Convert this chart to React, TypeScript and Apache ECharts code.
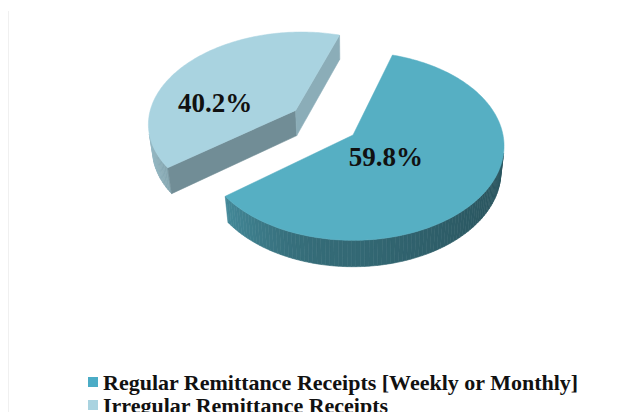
import React, { useEffect, useRef } from "react";
import * as echarts from "echarts";

// ---- data ----
const categories = [
  "Regular Remittance Receipts [Weekly or Monthly]",
  "Irregular Remittance Receipts",
];
const values = [59.8, 40.2];
const labelTexts = ["59.8%", "40.2%"];
const explodedSlices = [0, 1];

// ---- style ----
const topColors = ["#56AFC3", "#A9D3E0"];
const legendColors = ["#4BACC6", "#A9D3E0"];
const labelShiftDeg = [12.4, -25.7];
const labelRadius = [0.314, 0.57];
const legendTops = [366, 389];

// ---- 3D geometry ----
const CX = 353;
const CY = 135;
const RADIUS = 1;
const DIST = 6.7;
const FOCAL = 1005;
const TILT = (38.3 * Math.PI) / 180;
const THICK = 0.221;
const EXPLODE = 0.48;
const START_DEG = 17;
const cosA = Math.cos(TILT);
const sinA = Math.sin(TILT);
const CAM = [0, DIST * sinA, -DIST * cosA];

function project(X: number, Y: number, Z: number): number[] {
  const yc = Y * cosA + Z * sinA;
  const zc = DIST + Z * cosA - Y * sinA;
  return [CX + (FOCAL * X) / zc, CY - (FOCAL * yc) / zc];
}

function shade(hex: string, f: number): string {
  const n = parseInt(hex.slice(1), 16);
  const r = Math.round(((n >> 16) & 255) * f);
  const g = Math.round(((n >> 8) & 255) * f);
  const b = Math.round((n & 255) * f);
  return `rgb(${r},${g},${b})`;
}

function outerFactor(deg: number): number {
  const s = Math.sin((deg * Math.PI) / 180);
  return s < 0 ? 0.6 + 0.29 * s * s : 0.6 - 0.12 * s;
}

const rad = (d: number) => (d * Math.PI) / 180;

function makeRenderItem(idx: number) {
  return (params: any, api: any) => {
    const total = values.reduce((a, b) => a + b, 0);
    let acc = 0;
    for (let j = 0; j < idx; j++) acc += values[j];
    const v = api.value(0);
    const a0 = START_DEG + (acc / total) * 360;
    const a1 = a0 + (v / total) * 360;
    const mid = (a0 + a1) / 2;
    const ex = explodedSlices[idx] ? EXPLODE * Math.sin(rad(mid)) : 0;
    const ez = explodedSlices[idx] ? EXPLODE * Math.cos(rad(mid)) : 0;
    const top = topColors[idx];

    const rimTop = (d: number) =>
      project(ex + RADIUS * Math.sin(rad(d)), 0, ez + RADIUS * Math.cos(rad(d)));
    const rimBot = (d: number) =>
      project(ex + RADIUS * Math.sin(rad(d)), -THICK, ez + RADIUS * Math.cos(rad(d)));
    const apexTop = project(ex, 0, ez);
    const apexBot = project(ex, -THICK, ez);

    const children: any[] = [];

    // outer curved side
    const step = 1.5;
    for (let d = a0; d < a1 - 1e-6; d += step) {
      const d2 = Math.min(a1, d + step);
      const m = rad((d + d2) / 2);
      const px = ex + RADIUS * Math.sin(m);
      const pz = ez + RADIUS * Math.cos(m);
      const dot =
        (px - CAM[0]) * Math.sin(m) + (pz - CAM[2]) * Math.cos(m);
      if (dot >= 0) continue;
      const col = shade(top, outerFactor((d + d2) / 2));
      children.push({
        type: "polygon",
        shape: { points: [rimTop(d), rimTop(d2), rimBot(d2), rimBot(d)] },
        style: { fill: col, stroke: col, lineWidth: 0.6 },
        z2: 1,
      });
    }

    // radial walls
    const walls = [
      { ang: a0, n: [-Math.cos(rad(a0)), Math.sin(rad(a0))], f: 0.67 },
      { ang: a1, n: [Math.cos(rad(a1)), -Math.sin(rad(a1))], f: 0.82 },
    ];
    walls.forEach((w) => {
      const dot = (ex - CAM[0]) * w.n[0] + (ez - CAM[2]) * w.n[1];
      if (dot >= 0) return;
      const col = shade(top, w.f);
      children.push({
        type: "polygon",
        shape: { points: [apexTop, rimTop(w.ang), rimBot(w.ang), apexBot] },
        style: { fill: col, stroke: col, lineWidth: 0.6 },
        z2: 2,
      });
    });

    // top face
    const pts: number[][] = [apexTop];
    for (let d = a0; d <= a1 + 1e-6; d += 1) pts.push(rimTop(Math.min(d, a1)));
    pts.push(rimTop(a1));
    children.push({
      type: "polygon",
      shape: { points: pts },
      style: { fill: top, stroke: top, lineWidth: 0.5 },
      z2: 3,
    });

    // label
    const la = rad(mid + labelShiftDeg[idx]);
    const lp = project(
      ex + labelRadius[idx] * Math.sin(la),
      0,
      ez + labelRadius[idx] * Math.cos(la)
    );
    children.push({
      type: "text",
      style: {
        text: labelTexts[idx],
        x: lp[0],
        y: lp[1],
        fill: "#111111",
        font: "bold 27px 'Liberation Serif', serif",
        align: "center",
        verticalAlign: "middle",
      },
      z2: 4,
    });

    return { type: "group", children };
  };
}

export default function App() {
  const ref = useRef<HTMLDivElement>(null);
  useEffect(() => {
    if (!ref.current) return;
    const chart = echarts.init(ref.current, undefined, { renderer: "svg" });
    chart.setOption({
      animation: false,
      backgroundColor: "#ffffff",
      legend: categories.map((name, i) => ({
        orient: "vertical",
        left: 83,
        top: legendTops[i],
        itemWidth: 10,
        itemHeight: 10,
        icon: "rect",
        selectedMode: false,
        data: [name],
        textStyle: {
          fontFamily: "'Liberation Serif', serif",
          fontWeight: "bold",
          fontSize: 22,
          lineHeight: 22,
          color: "#111111",
        },
      })),
      graphic: [
        {
          type: "rect",
          shape: { x: 8, y: 11, width: 1, height: 401 },
          style: { fill: "#f0f0f0" },
          silent: true,
        },
      ],
      series: categories.map((name, i) => ({
        type: "custom",
        name,
        coordinateSystem: "none",
        itemStyle: { color: legendColors[i] },
        data: [values[i]],
        renderItem: makeRenderItem(i),
        silent: true,
      })),
    });
    return () => chart.dispose();
  }, []);
  return (
    <div
      ref={ref}
      style={{ position: "fixed", left: 0, top: 0, width: 625, height: 412 }}
    />
  );
}
